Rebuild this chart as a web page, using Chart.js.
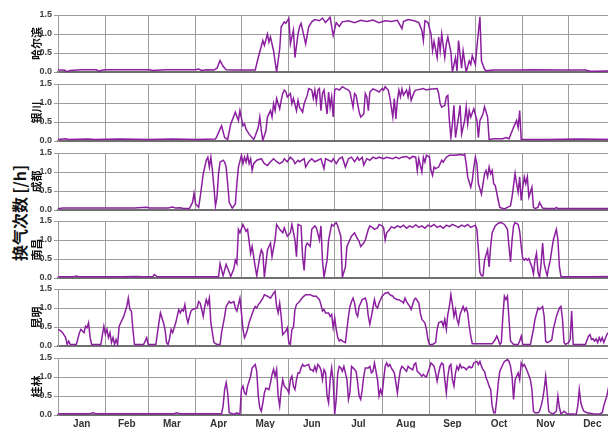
<!DOCTYPE html>
<html><head><meta charset="utf-8">
<script src="https://cdn.jsdelivr.net/npm/chart.js@4.4.1/dist/chart.umd.min.js"></script>
<style>
html,body{margin:0;padding:0;width:608px;height:428px;overflow:hidden;background:#fff;}
#wrap{position:relative;width:608px;height:428px;overflow:hidden;}
#wrap canvas{position:absolute;left:0;}
#ylab{position:absolute;left:19px;top:213px;transform:translate(-50%,-50%) rotate(-90deg);white-space:nowrap;font:bold 16px "Noto Sans CJK SC",sans-serif;color:#111;}
</style></head>
<body><div id="wrap"><div id="ylab">换气次数 [/h]</div></div>
<script>
// ---- data ----
const monthLabels = ['Jan','Feb','Mar','Apr','May','Jun','Jul','Aug','Sep','Oct','Nov','Dec'];
const monthStarts = [0,31,59,90,120,151,181,212,243,273,304,334,365];
const yTicks = [0,0.5,1.0,1.5];
const cities = ['哈尔滨','银川','成都','南昌','昆明','桂林'];

// [day of year, air changes per hour]
const harbin = [[0,0.05],[4,0.05],[6,0.01],[8,0.04],[15,0.06],[25,0.06],[27,0.02],[29,0.05],[32,0.06],[60,0.06],[62,0.04],[70,0.06],[90,0.06],[92,0.08],[94,0.04],[97,0.06],[102,0.05],[104,0.1],[106,0.3],[108,0.15],[110,0.06],[114,0.05],[129,0.05],[131,0.38],[134,0.83],[135,0.7],[137,1.0],[138,0.79],[139,0.92],[141,0.56],[143,0.0],[145,0.6],[146,1.19],[148,1.32],[149,1.28],[151,1.41],[152,0.74],[154,1.1],[155,0.38],[157,1.0],[158,1.19],[159,1.28],[160,1.1],[162,0.74],[164,1.19],[166,1.32],[168,1.38],[171,1.35],[173,1.42],[175,1.3],[178,1.44],[180,0.96],[182,1.3],[184,1.2],[186,1.32],[190,1.35],[194,1.3],[198,1.36],[202,1.33],[206,1.37],[210,1.3],[214,1.35],[218,1.33],[222,1.36],[225,1.14],[226,1.33],[229,1.38],[233,1.35],[236,1.3],[238,1.1],[239,0.83],[240,1.35],[242,1.3],[244,1.0],[245,0.56],[246,0.8],[248,0.38],[249,0.92],[250,0.56],[251,1.0],[253,0.38],[254,0.74],[255,0.92],[257,0.52],[258,0.0],[260,0.38],[261,0.03],[262,0.83],[264,0.1],[265,0.56],[267,0.0],[269,0.29],[270,0.2],[271,0.43],[273,0.2],[274,0.65],[276,1.45],[277,0.29],[279,0.07],[280,0.03],[285,0.05],[300,0.05],[310,0.06],[330,0.05],[345,0.05],[348,0.02],[352,0.02],[365,0.03]];
const yinchuan = [[0,0.04],[5,0.06],[7,0.04],[20,0.05],[24,0.04],[40,0.05],[60,0.04],[75,0.05],[90,0.04],[103,0.05],[104,0.13],[107,0.4],[109,0.09],[111,0.04],[113,0.45],[116,0.76],[118,0.54],[119,0.8],[121,0.4],[122,0.45],[123,0.31],[125,0.18],[128,0.04],[129,0.13],[131,0.36],[132,0.63],[133,0.27],[134,0.02],[136,0.27],[137,0.63],[139,0.8],[140,0.63],[141,0.98],[142,0.8],[143,1.12],[145,0.85],[146,1.07],[147,1.25],[148,1.34],[149,1.3],[150,1.16],[152,1.25],[153,0.98],[154,1.12],[156,0.8],[157,1.07],[158,0.89],[160,0.76],[161,0.98],[163,1.2],[164,1.38],[166,1.34],[167,1.12],[168,1.34],[169,1.03],[170,1.34],[171,1.38],[172,0.8],[173,1.25],[174,1.34],[176,0.71],[177,1.29],[178,0.89],[179,1.16],[180,0.63],[181,1.34],[182,1.38],[184,1.34],[186,1.43],[188,1.38],[190,1.34],[191,1.29],[193,0.89],[194,1.25],[195,1.2],[197,0.76],[198,0.63],[200,0.71],[201,1.25],[202,1.16],[203,0.8],[204,1.29],[206,1.37],[208,1.34],[210,1.29],[212,1.38],[213,1.34],[214,1.43],[216,1.34],[217,1.16],[219,0.63],[220,1.12],[221,0.58],[222,1.07],[223,1.34],[224,1.16],[225,1.37],[226,1.21],[228,1.34],[229,1.16],[230,1.38],[231,1.07],[233,1.29],[234,1.34],[237,1.36],[239,1.38],[241,1.34],[243,1.36],[245,1.37],[248,1.38],[249,1.25],[250,0.98],[251,0.89],[253,0.94],[254,1.16],[255,1.2],[256,0.54],[257,0.09],[258,0.45],[259,0.94],[260,0.09],[262,0.63],[263,0.94],[264,0.18],[266,0.54],[267,0.9],[268,0.45],[269,0.8],[270,0.63],[272,0.85],[274,0.54],[275,0.09],[276,0.54],[278,0.71],[279,0.9],[281,0.63],[282,0.04],[285,0.06],[291,0.06],[293,0.09],[295,0.06],[298,0.36],[299,0.45],[300,0.54],[301,0.36],[302,0.8],[303,0.04],[320,0.04],[340,0.05],[365,0.04]];
const chengdu = [[0,0.03],[3,0.05],[20,0.05],[50,0.05],[58,0.07],[60,0.05],[72,0.05],[75,0.08],[77,0.05],[80,0.06],[82,0.04],[86,0.04],[88,0.2],[89,0.44],[90,0.16],[92,0.07],[93,0.34],[95,0.95],[97,1.31],[98,1.39],[99,1.13],[100,1.39],[101,1.04],[102,0.6],[103,0.11],[104,0.34],[105,0.95],[106,1.26],[108,1.31],[109,1.26],[110,1.13],[111,0.69],[112,0.2],[114,0.05],[116,0.16],[117,0.69],[118,1.13],[120,1.44],[121,1.22],[122,1.39],[123,1.26],[124,1.44],[125,1.22],[126,1.35],[127,1.04],[128,1.22],[130,1.31],[133,1.35],[135,1.22],[137,1.17],[139,1.27],[141,1.35],[143,1.27],[145,1.22],[147,1.27],[148,1.35],[150,1.27],[152,1.39],[154,1.31],[155,1.22],[157,1.31],[158,1.27],[161,1.35],[162,1.13],[164,1.27],[166,1.35],[168,1.27],[170,1.31],[172,1.35],[174,1.09],[175,1.35],[177,1.31],[179,1.27],[180,1.35],[182,1.22],[184,1.35],[186,1.39],[188,1.13],[190,1.35],[192,1.39],[194,1.27],[196,1.39],[197,1.31],[199,1.39],[200,1.18],[202,1.35],[204,1.31],[206,1.39],[208,1.35],[210,1.39],[213,1.35],[215,1.39],[217,1.37],[219,1.35],[221,1.39],[223,1.35],[225,1.39],[228,1.41],[230,1.35],[232,1.41],[234,1.39],[235,1.04],[236,1.35],[238,1.0],[239,1.39],[240,1.26],[241,1.44],[243,1.39],[244,1.04],[245,0.91],[246,1.13],[247,1.09],[249,1.13],[251,1.31],[252,1.26],[254,1.39],[256,1.44],[258,1.44],[260,1.44],[263,1.46],[265,1.44],[266,1.47],[267,1.22],[268,0.87],[270,0.6],[271,0.78],[272,1.13],[273,1.39],[274,1.22],[275,0.69],[277,0.42],[278,0.69],[279,0.95],[280,1.04],[281,0.87],[282,1.13],[283,0.95],[284,1.04],[285,0.69],[286,0.65],[288,0.25],[289,0.07],[292,0.03],[294,0.07],[296,0.11],[297,0.34],[299,0.96],[300,0.69],[301,0.47],[302,0.87],[303,0.25],[304,0.6],[305,0.87],[306,0.69],[307,0.87],[308,0.34],[310,0.6],[311,0.07],[312,0.04],[314,0.07],[315,0.2],[317,0.05],[319,0.04],[325,0.04],[326,0.07],[327,0.04],[365,0.04]];
const nanchang = [[0,0.03],[10,0.03],[12,0.05],[14,0.03],[40,0.03],[52,0.04],[55,0.03],[62,0.03],[63,0.09],[65,0.03],[90,0.03],[105,0.03],[106,0.38],[108,0.06],[110,0.36],[112,0.15],[113,0.04],[115,0.24],[116,0.47],[117,0.38],[118,1.28],[119,1.19],[121,1.41],[123,1.23],[124,1.28],[126,0.65],[127,0.83],[129,0.29],[130,0.06],[132,0.56],[133,0.74],[134,0.65],[135,0.02],[137,0.74],[139,0.92],[140,0.56],[142,1.0],[143,1.41],[145,1.28],[147,1.19],[148,1.32],[150,1.1],[152,1.19],[153,1.41],[155,1.0],[156,0.56],[157,1.41],[159,1.37],[160,0.56],[161,0.2],[162,0.83],[163,0.92],[165,0.83],[166,1.28],[168,1.37],[169,1.32],[171,1.0],[172,1.37],[173,0.47],[174,0.02],[176,0.47],[177,1.0],[179,1.41],[180,1.37],[182,1.46],[183,1.37],[184,1.23],[185,1.1],[186,0.02],[188,0.29],[189,0.83],[190,0.92],[192,1.1],[194,1.19],[195,1.1],[197,0.96],[198,0.83],[200,0.92],[201,1.0],[203,1.28],[204,1.37],[206,1.32],[207,1.28],[209,1.32],[210,1.41],[212,1.37],[213,1.32],[214,1.0],[215,1.19],[217,1.28],[218,1.35],[220,1.31],[222,1.37],[224,1.33],[226,1.39],[228,1.31],[230,1.37],[232,1.33],[234,1.4],[236,1.33],[238,1.37],[240,1.31],[242,1.39],[244,1.35],[246,1.41],[248,1.33],[250,1.37],[252,1.31],[254,1.39],[256,1.35],[258,1.41],[260,1.37],[262,1.33],[264,1.39],[266,1.35],[268,1.41],[270,1.33],[273,1.39],[274,1.28],[275,0.74],[276,0.15],[277,0.06],[278,0.06],[279,0.47],[281,0.74],[282,0.29],[283,0.83],[284,1.19],[286,1.37],[288,1.44],[290,1.46],[292,1.41],[294,1.28],[295,0.83],[296,0.42],[297,1.0],[298,1.37],[299,1.46],[301,1.41],[302,1.23],[303,0.83],[304,0.51],[305,0.47],[306,0.51],[307,0.47],[308,0.51],[310,0.29],[311,0.11],[312,0.47],[313,0.65],[314,0.15],[315,0.02],[316,0.38],[317,0.92],[318,0.38],[319,0.2],[320,0.06],[321,0.29],[322,0.47],[323,0.74],[324,1.0],[326,1.28],[327,1.0],[328,0.29],[329,0.04],[331,0.03],[345,0.03],[365,0.04]];
const kunming = [[0,0.44],[2,0.39],[3,0.35],[5,0.22],[6,0.04],[7,0.13],[8,0.04],[12,0.04],[14,0.35],[15,0.44],[17,0.35],[18,0.52],[19,0.48],[20,0.61],[21,0.22],[22,0.04],[28,0.04],[30,0.52],[31,0.31],[32,0.44],[33,0.22],[34,0.35],[35,0.09],[36,0.22],[37,0.04],[38,0.17],[39,0.04],[40,0.52],[43,0.78],[45,1.04],[46,1.26],[47,0.96],[48,0.92],[49,0.44],[50,0.04],[56,0.04],[58,0.22],[59,0.04],[64,0.04],[66,0.61],[67,0.87],[69,0.61],[70,0.44],[71,0.09],[72,0.04],[73,0.2],[74,0.44],[75,0.35],[77,0.61],[79,0.96],[80,0.87],[81,0.96],[82,0.92],[83,1.09],[84,0.78],[85,0.61],[86,0.78],[87,0.92],[88,0.96],[91,1.0],[92,1.17],[93,1.13],[94,0.96],[95,0.78],[96,1.04],[97,1.22],[98,1.09],[99,1.26],[100,0.61],[101,0.35],[102,0.09],[104,0.04],[106,0.04],[107,0.35],[109,0.78],[110,1.04],[112,1.17],[113,1.13],[115,1.17],[116,1.0],[117,0.92],[118,1.09],[119,1.26],[120,0.87],[121,0.44],[122,0.22],[123,0.31],[124,0.44],[125,0.61],[128,0.96],[129,1.04],[130,1.0],[131,1.09],[132,1.13],[134,1.26],[135,1.35],[137,1.31],[139,1.26],[141,1.39],[142,1.44],[143,1.04],[144,0.87],[145,1.13],[146,0.78],[147,0.3],[149,0.39],[150,0.48],[151,0.09],[152,0.04],[153,0.44],[154,0.48],[155,0.96],[156,1.09],[158,1.17],[160,1.28],[162,1.35],[165,1.35],[167,1.31],[169,1.31],[170,1.26],[171,1.22],[172,1.09],[173,0.92],[174,0.96],[175,0.87],[177,0.87],[178,0.78],[179,0.83],[180,0.48],[181,0.74],[182,0.44],[183,0.22],[184,0.13],[185,0.17],[186,0.13],[188,0.09],[189,0.44],[190,0.78],[191,1.04],[192,1.17],[193,1.26],[194,1.13],[195,0.87],[196,0.78],[197,1.04],[199,1.22],[201,1.26],[202,1.13],[203,0.78],[204,0.57],[205,0.78],[206,1.0],[207,1.22],[208,1.04],[209,1.0],[210,1.13],[212,1.31],[213,1.35],[214,1.39],[216,1.41],[217,1.35],[219,1.31],[220,1.26],[222,1.22],[223,1.22],[225,1.17],[226,1.13],[227,1.26],[228,1.17],[230,1.04],[231,0.96],[232,1.09],[233,1.22],[234,1.26],[236,1.13],[237,0.87],[238,0.7],[240,0.61],[241,0.44],[242,0.17],[243,0.04],[245,0.04],[247,0.09],[248,0.44],[249,0.61],[251,0.65],[252,0.52],[253,0.7],[254,0.44],[255,0.83],[256,1.04],[257,1.35],[258,1.09],[259,0.78],[260,0.96],[261,0.7],[262,0.57],[263,0.83],[265,1.04],[266,0.92],[267,1.0],[268,0.87],[269,0.52],[270,0.26],[271,0.06],[284,0.06],[286,0.17],[287,0.26],[288,0.17],[289,0.04],[290,0.09],[291,0.78],[292,1.31],[293,1.22],[294,1.31],[295,0.7],[296,0.13],[298,0.04],[301,0.04],[302,0.13],[303,0.26],[304,0.04],[309,0.04],[311,0.44],[312,0.7],[314,1.0],[315,0.96],[317,1.04],[318,0.78],[319,0.13],[320,0.09],[322,0.13],[323,0.17],[324,0.44],[326,0.78],[328,1.0],[329,1.04],[330,0.7],[331,0.09],[332,0.04],[334,0.09],[335,0.17],[336,0.92],[337,0.04],[345,0.04],[347,0.26],[348,0.3],[349,0.17],[350,0.19],[351,0.13],[352,0.19],[353,0.09],[354,0.22],[355,0.13],[356,0.22],[357,0.09],[359,0.3],[360,0.35],[362,0.2],[365,0.12]];
const guilin = [[0,0.03],[20,0.03],[23,0.06],[25,0.03],[50,0.03],[75,0.03],[78,0.06],[80,0.03],[100,0.03],[107,0.03],[108,0.24],[109,0.67],[110,0.85],[111,0.58],[112,0.06],[115,0.02],[117,0.06],[119,0.02],[120,0.67],[121,0.76],[122,0.58],[123,0.54],[124,0.76],[126,1.02],[127,1.24],[128,1.28],[129,1.33],[130,1.15],[131,0.5],[132,0.19],[133,0.1],[134,0.32],[135,0.58],[136,0.71],[138,0.67],[139,0.85],[140,1.06],[141,1.2],[142,1.02],[143,1.2],[144,0.5],[145,0.24],[146,0.67],[147,0.93],[148,0.76],[150,0.67],[151,0.58],[152,0.93],[153,1.02],[154,0.76],[155,0.67],[156,0.93],[157,1.11],[158,1.1],[159,1.24],[160,1.33],[161,1.28],[162,1.3],[164,1.33],[165,1.19],[166,1.19],[167,1.15],[168,1.28],[169,1.15],[170,1.33],[171,1.28],[172,1.19],[173,0.93],[174,1.19],[175,1.11],[176,0.5],[177,0.32],[178,0.93],[179,1.24],[180,0.9],[181,0.02],[182,0.41],[183,1.11],[184,1.28],[185,1.24],[186,1.15],[187,1.28],[189,0.93],[190,0.41],[191,0.6],[192,1.28],[193,1.24],[195,1.15],[196,0.85],[197,0.5],[198,0.41],[199,0.67],[200,1.02],[201,1.24],[203,1.24],[204,1.28],[205,1.11],[206,1.15],[207,1.37],[208,1.15],[209,0.93],[210,0.5],[211,0.67],[212,0.54],[213,0.93],[214,1.28],[215,1.37],[216,1.28],[217,1.33],[218,1.24],[220,1.11],[221,0.85],[222,0.58],[223,0.93],[224,1.19],[225,1.28],[226,1.24],[227,1.19],[228,1.15],[229,1.28],[230,1.24],[232,1.19],[233,1.33],[234,1.37],[235,1.15],[236,1.11],[237,1.07],[238,1.02],[239,1.07],[240,1.02],[241,1.0],[243,1.24],[244,1.37],[245,1.33],[246,1.28],[247,1.11],[248,0.89],[249,1.11],[250,1.28],[251,1.37],[252,1.33],[253,0.93],[254,0.58],[255,1.02],[256,1.28],[257,1.33],[258,0.93],[259,0.76],[260,1.11],[261,1.28],[262,1.19],[263,1.33],[264,1.24],[265,1.26],[266,1.24],[267,1.19],[268,1.24],[269,1.28],[270,1.24],[271,1.26],[272,1.37],[274,1.41],[275,1.33],[276,1.41],[277,1.28],[278,1.19],[279,1.15],[280,0.98],[281,0.89],[282,0.76],[283,0.67],[284,0.24],[285,0.06],[286,0.06],[287,0.41],[288,0.85],[289,1.15],[291,1.33],[292,1.41],[294,1.46],[295,1.41],[296,1.28],[297,1.02],[298,0.41],[299,0.93],[301,1.11],[302,0.93],[303,1.37],[304,1.28],[305,1.33],[306,1.24],[307,1.15],[309,0.93],[310,0.67],[311,0.1],[312,0.06],[314,0.06],[315,0.1],[316,0.24],[317,0.41],[318,0.67],[319,1.02],[320,0.58],[321,0.1],[322,0.06],[324,0.03],[326,0.1],[327,0.5],[328,0.19],[329,0.03],[330,0.06],[331,0.1],[333,0.03],[339,0.02],[340,0.24],[341,0.67],[342,0.32],[343,0.19],[344,0.1],[346,0.06],[350,0.03],[354,0.02],[356,0.06],[357,0.24],[359,0.5],[360,0.7],[362,0.3],[365,0.1]];

const series = [harbin, yinchuan, chengdu, nanchang, kunming, guilin];

// ---- layout ----
const panelTops = [15, 84, 153, 221, 289, 358];
const PLOT_H = 57, PAD_T = 10, AXIS_W = 58, CANVAS_W = 620, PAD_R = 4;
const LINE_COLOR = '#8b1f9f';

// x ticks: month boundaries (grid) interleaved with mid-month (labels)
const xTickVals = [];
for (let i = 0; i < 12; i++) {
  xTickVals.push(monthStarts[i]);
  xTickVals.push((monthStarts[i] + monthStarts[i + 1]) / 2);
}
xTickVals.push(monthStarts[12]);

const wrap = document.getElementById('wrap');
series.forEach((pts, i) => {
  const last = i === series.length - 1;
  const bottomH = last ? 16 : 10;
  const cv = document.createElement('canvas');
  const h = PAD_T + PLOT_H + bottomH;
  cv.width = CANVAS_W; cv.height = h;
  cv.style.width = CANVAS_W + 'px'; cv.style.height = h + 'px';
  cv.style.top = (panelTops[i] - PAD_T) + 'px';
  wrap.appendChild(cv);

  new Chart(cv, {
    type: 'line',
    data: {
      datasets: [{
        data: pts.map(p => ({x: p[0], y: p[1]})),
        borderColor: LINE_COLOR,
        borderWidth: 1.5,
        pointRadius: 0,
        tension: 0,
        fill: false
      }]
    },
    options: {
      responsive: false,
      animation: false,
      devicePixelRatio: 1,
      layout: {padding: {top: PAD_T, right: PAD_R, left: 0, bottom: 0}},
      plugins: {legend: {display: false}, tooltip: {enabled: false}},
      scales: {
        x: {
          type: 'linear', min: 0, max: 365,
          afterBuildTicks: s => { s.ticks = xTickVals.map(v => ({value: v})); },
          afterFit: s => { s.height = bottomH; },
          grid: {
            drawTicks: false,
            color: c => (c.index % 2 === 0 ? '#9c9c9c' : 'rgba(0,0,0,0)'),
            lineWidth: 1
          },
          border: {display: true, color: '#707070', width: 2},
          ticks: {
            display: last, autoSkip: false, maxRotation: 0, padding: 3,
            color: '#333',
            font: {family: '"Liberation Sans", Arial, sans-serif', size: 10, weight: 'bold'},
            callback: (v, idx) => (idx % 2 === 1 ? monthLabels[(idx - 1) / 2] : '')
          }
        },
        y: {
          min: 0, max: 1.5,
          afterBuildTicks: s => { s.ticks = yTicks.map(v => ({value: v})); },
          afterFit: s => { s.width = AXIS_W; },
          grid: {color: '#9c9c9c', lineWidth: 1, tickLength: 4, drawTicks: true},
          border: {display: true, color: '#9c9c9c', width: 1},
          ticks: {
            padding: 2, color: '#3c3c3c',
            font: {family: '"Liberation Sans", Arial, sans-serif', size: 9, weight: 'bold'},
            callback: v => Number(v).toFixed(1)
          },
          title: {
            display: true, text: cities[i], color: '#111',
            font: {family: '"Noto Sans CJK SC", sans-serif', size: 11, weight: 'bold'},
            padding: {top: 30, bottom: 0}
          }
        }
      }
    }
  });
});
</script>
</body></html>
